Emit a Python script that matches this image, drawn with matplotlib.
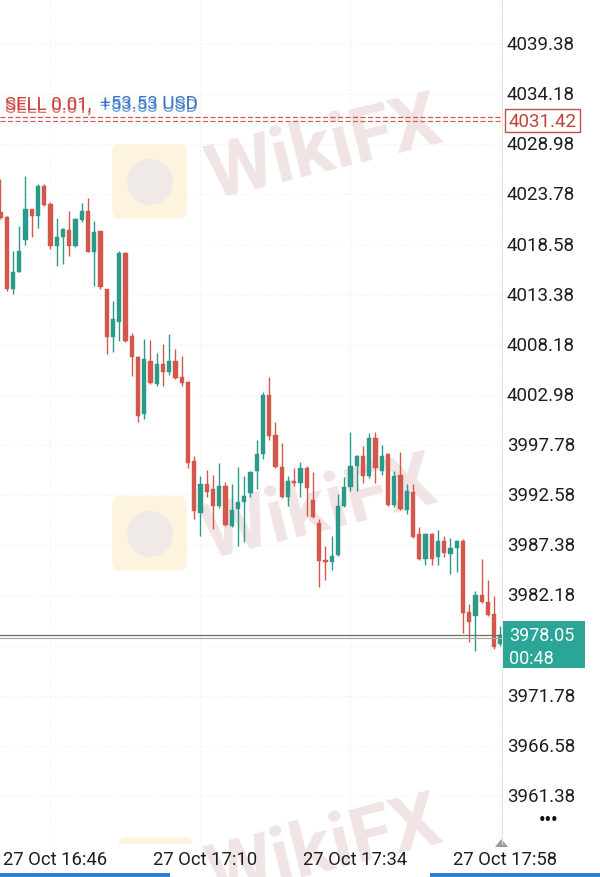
import matplotlib
matplotlib.use("Agg")
import matplotlib.pyplot as plt
import matplotlib.transforms as mtransforms
from matplotlib.patches import Rectangle, FancyBboxPatch, Ellipse
import numpy as np

plt.rcParams['font.family'] = ['Roboto', 'DejaVu Sans']

# ---------------- data ----------------
# 1-minute candles, index -1 .. 79 (index 79 = 27 Oct 17:58)
opens = [4021.96, 4021.41, 4013.97, 4015.76, 4019.08, 4022.27, 4021.51, 4024.62, 4022.78, 4018.40, 4019.33,
         4020.12, 4018.46, 4021.16, 4022.09, 4017.84, 4020.02, 4013.97, 4009.02, 4010.51, 4017.70,
         4009.06, 4006.88, 4001.00, 4006.53, 4004.11, 4006.19, 4005.39, 4006.53, 4004.81, 4004.29,
         3996.16, 3990.73, 3993.74, 3993.22, 3991.43, 3993.50, 3989.42, 3991.15, 3991.84, 3992.81,
         3995.12, 3996.85, 4002.97, 3998.82, 3995.47, 3992.36, 3994.05, 3993.84, 3995.37, 3992.11,
         3989.70, 3985.86, 3985.68, 3986.38, 3991.43, 3993.40, 3995.58, 3996.61, 3994.54, 3998.48,
         3995.12, 3996.85, 3991.56, 3994.68, 3991.07, 3992.88, 3988.55, 3985.96, 3988.55, 3986.14,
         3987.86, 3986.48, 3987.07, 3987.86, 3980.49, 3980.02, 3982.23, 3981.53, 3980.26, 3977.14]
highs = [4025.38, 4021.57, 4017.94, 4020.53, 4025.72, 4022.27, 4024.86, 4024.86, 4022.96, 4021.30, 4020.26,
         4022.09, 4021.30, 4022.86, 4023.38, 4021.05, 4020.02, 4013.97, 4012.75, 4017.94, 4017.84,
         4009.40, 4007.05, 4008.78, 4008.71, 4007.33, 4008.26, 4009.30, 4007.74, 4007.05, 4004.46,
         3996.68, 3994.54, 3995.22, 3994.67, 3995.92, 3993.98, 3993.74, 3995.47, 3994.54, 3995.12,
         3998.34, 4003.31, 4004.81, 4000.14, 3997.99, 3994.54, 3995.37, 3996.05, 3995.64, 3994.95,
         3990.11, 3987.34, 3988.32, 3992.70, 3994.44, 3999.10, 3996.75, 3997.71, 3999.03, 3999.10,
         3997.79, 3996.96, 3995.12, 3997.09, 3993.74, 3993.74, 3989.25, 3988.66, 3988.66, 3989.00,
         3988.31, 3988.11, 3987.96, 3988.04, 3981.29, 3982.67, 3985.96, 3983.81, 3982.09, 3978.98]
lows = [4021.23, 4013.79, 4013.45, 4015.70, 4018.53, 4019.33, 4020.26, 4022.61, 4018.12, 4016.32, 4016.56,
        4017.36, 4018.29, 4020.89, 4017.78, 4014.31, 4013.97, 4007.23, 4007.40, 4008.60, 4008.50,
        4004.97, 4000.20, 4000.48, 4004.11, 4003.94, 4003.94, 4005.05, 4004.63, 4003.94, 3995.37,
        3990.11, 3988.38, 3992.36, 3989.07, 3991.30, 3989.42, 3989.30, 3987.28, 3987.75, 3992.36,
        3993.22, 3996.33, 3998.34, 3995.40, 3992.30, 3991.43, 3993.56, 3992.36, 3990.45, 3990.18,
        3983.02, 3983.81, 3984.85, 3986.30, 3991.32, 3993.05, 3993.05, 3993.84, 3994.33, 3993.84,
        3994.68, 3991.49, 3991.32, 3991.07, 3990.63, 3988.11, 3985.89, 3985.34, 3985.34, 3985.34,
        3986.14, 3984.41, 3984.64, 3978.29, 3977.38, 3976.45, 3981.40, 3980.02, 3976.63, 3976.97]
closes = [4021.33, 4013.97, 4015.76, 4017.88, 4022.27, 4021.51, 4024.62, 4022.68, 4018.40, 4019.33, 4020.19,
          4018.46, 4021.23, 4022.09, 4017.84, 4019.91, 4014.14, 4009.02, 4010.86, 4017.70, 4008.60,
          4006.88, 4000.83, 4006.71, 4004.22, 4006.19, 4005.33, 4006.53, 4004.70, 4004.22, 3995.92,
          3990.97, 3993.74, 3992.94, 3991.43, 3993.50, 3989.49, 3991.07, 3991.91, 3992.46, 3995.02,
          3996.85, 4002.97, 3998.75, 3995.47, 3992.36, 3994.08, 3993.84, 3995.37, 3993.29, 3990.29,
          3985.78, 3985.62, 3986.30, 3991.43, 3993.40, 3995.58, 3996.61, 3994.54, 3998.48, 3995.37,
          3996.68, 3991.56, 3994.54, 3991.15, 3993.05, 3988.21, 3985.96, 3988.55, 3985.96, 3987.86,
          3986.58, 3987.07, 3987.86, 3980.36, 3979.46, 3982.23, 3981.53, 3980.15, 3976.80, 3978.05]
first_index = -1

price_ticks = [4044.58, 4039.38, 4034.18, 4028.98, 4023.78, 4018.58, 4013.38, 4008.18, 4002.98,
               3997.78, 3992.58, 3987.38, 3982.18, 3976.98, 3971.78, 3966.58, 3961.38]
time_tick_index = [7, 31, 55, 79]
time_tick_labels = ["27 Oct 16:46", "27 Oct 17:10", "27 Oct 17:34", "27 Oct 17:58"]

position_prices = [4031.80, 4031.42]
position_label = "SELL 0.01,"
profit_label = "+53.53 USD"
bid_price = 3978.05
ask_line_price = 3977.80
timer_label = "00:48"

# ---------------- figure ----------------
W, H = 600, 878
fig = plt.figure(figsize=(W / 100, H / 100), dpi=100)
fig.patch.set_facecolor('white')
plot_right = 502
plot_bottom = 845
ax = fig.add_axes([0, (H - plot_bottom) / H, plot_right / W, plot_bottom / H])
ax.set_facecolor('none')
ax.set_ylim(3956.40, 4044.05)
ax.set_xlim(-1.072, 79.25)
for s in ax.spines.values():
    s.set_visible(False)
ax.set_xticks([])
ax.set_yticks([])

# grid
for p in price_ticks:
    ax.axhline(p, color='#efefef', lw=0.8, ls=(0, (1, 2)), zorder=0)
for k in time_tick_index:
    ax.axvline(k, color='#efefef', lw=0.8, ls=(0, (1, 2)), zorder=0)

# watermarks (in pixel coordinates of the figure)
def fx(px):
    return px / W

def fy(py):
    return 1 - py / H

for (lx, ly, tx, ty) in [(112, 145, 325, 150), (112, 497, 320, 510), (118, 838, 325, 850)]:
    box = FancyBboxPatch((fx(lx), fy(ly + 75)), 75 / W, 75 / H,
                         boxstyle="round,pad=0,rounding_size=0.012",
                         transform=fig.transFigure, facecolor='#fdf4e0', edgecolor='none',
                         zorder=0.2)
    ax.add_artist(box)
    ax.add_artist(Ellipse((fx(lx + 38), fy(ly + 38)), 46 / W, 46 / H, transform=fig.transFigure,
                          facecolor='#efeae6', edgecolor='none', zorder=0.3))
    ax.text(fx(tx), fy(ty), "WikiFX", transform=fig.transFigure, fontsize=55,
            fontweight='bold', color='#f0e4e4', rotation=14, ha='center', va='center',
            zorder=0.4, family=['Roboto', 'DejaVu Sans'])

# candles
up_col = '#2b9a8b'
dn_col = '#d4574c'
n = len(opens)
idx = np.arange(first_index, first_index + n)
o = np.array(opens); c = np.array(closes); hi = np.array(highs); lo = np.array(lows)
cols = [up_col if cc >= oo else dn_col for oo, cc in zip(o, c)]
ax.vlines(idx, lo, hi, colors=cols, lw=1.0, zorder=2)
bottoms = np.minimum(o, c)
heights = np.maximum(np.abs(c - o), 0.25)
ax.bar(idx, heights, bottom=bottoms, width=0.66, color=cols, edgecolor=cols, lw=0.3, zorder=3)

# position lines
ax.axhline(position_prices[0], color='#d9534f', lw=0.9, ls=(0, (4, 2)), zorder=4)
ax.axhline(position_prices[1], color='#c9645c', lw=0.9, ls=(0, (4, 2)), zorder=4)
# current price lines
ax.axhline(bid_price, color='#6d6d6d', lw=0.9, zorder=4)
ax.axhline(ask_line_price, color='#a8a8a8', lw=0.9, zorder=4)

# position labels (two overlapping labels, as in the reference)
for dy, a in [(0, 1.0), (3, 0.7)]:
    ax.text(fx(5), fy(113 + dy), position_label, transform=fig.transFigure, fontsize=13.5,
            color='#c9413a', ha='left', va='bottom', alpha=a, zorder=5)
    ax.text(fx(100), fy(113 + dy), profit_label, transform=fig.transFigure, fontsize=13.5,
            color='#3b78c4', ha='left', va='bottom', alpha=a, zorder=5)

# right axis separator
fig.add_artist(plt.Line2D([fx(502), fx(502)], [fy(0), fy(plot_bottom)], transform=fig.transFigure,
                          color='#e6e6e6', lw=0.8))

# price axis labels
blend = mtransforms.blended_transform_factory(fig.transFigure, ax.transData)
for p in price_ticks:
    ax.text(fx(507), p, f"{p:.2f}", transform=blend, fontsize=13.5, color='#1e1e1e',
            ha='left', va='center', clip_on=False)

# sell position box
ybox = ax.transData.transform((0, position_prices[1]))[1]
box_h = 23
fig.add_artist(Rectangle((fx(505), (ybox - box_h / 2) / H), 75 / W, box_h / H,
                         transform=fig.transFigure, facecolor='white', edgecolor='#c0504a', lw=1.0))
fig.text(fx(542.5), ybox / H, f"{position_prices[1]:.2f}", fontsize=13.5, color='#c0433c',
         ha='center', va='center')

# current price box
ybid = ax.transData.transform((0, bid_price))[1]
fig.add_artist(Rectangle((fx(503), fy(669)), 82 / W, 47 / H, transform=fig.transFigure,
                         facecolor='#2ba597', edgecolor='none'))
fig.text(fx(509), ybid / H, f"{bid_price:.2f}", fontsize=13, color='white', ha='left', va='center')
fig.text(fx(509), fy(659), timer_label, fontsize=13, color='white', ha='left', va='center')

# time axis labels
for k, lab in zip(time_tick_index, time_tick_labels):
    xp = ax.transData.transform((k, 0))[0] + 5
    fig.text(xp / W, fy(860), lab, fontsize=13.2, color='#1e1e1e', ha='center', va='center')

# small UI marks
fig.text(fx(548), fy(821), "•••", fontsize=13, color='#111111', ha='center', va='center',
         fontweight='bold')
fig.add_artist(plt.Polygon([[fx(495), fy(848)], [fx(508), fy(848)], [fx(501.5), fy(840)]],
                           closed=True, transform=fig.transFigure, facecolor='#9a9a9a',
                           edgecolor='none'))
fig.add_artist(Rectangle((0, 0), 170 / W, 4 / H, transform=fig.transFigure,
                         facecolor='#2f7fd0', edgecolor='none'))
fig.add_artist(Rectangle((fx(430), 0), 170 / W, 4 / H, transform=fig.transFigure,
                         facecolor='#2f7fd0', edgecolor='none'))

fig.savefig("out.png", dpi=100, facecolor='white')
